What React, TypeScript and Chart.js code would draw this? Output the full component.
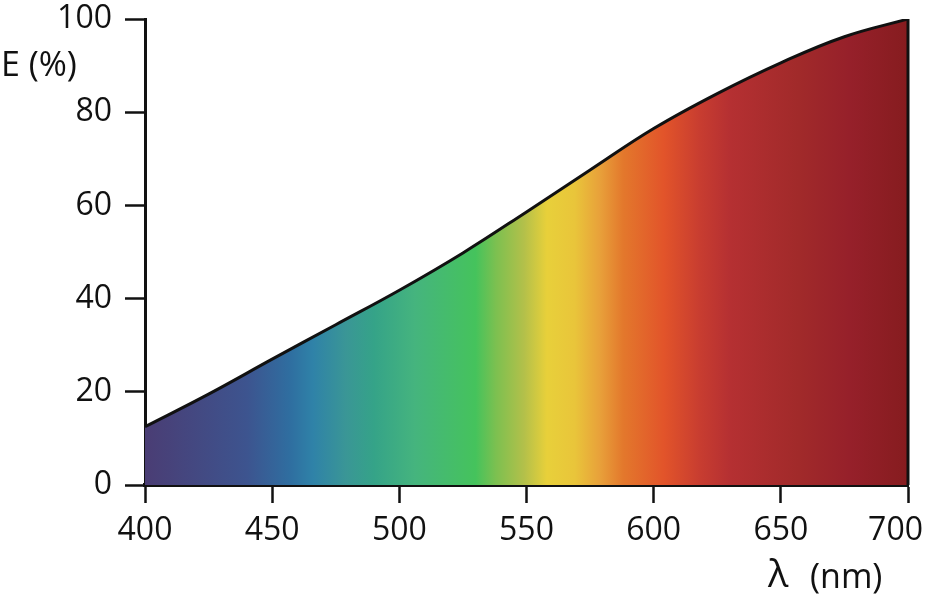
import React, { useEffect, useRef } from "react";
import { Chart, registerables } from "chart.js";

Chart.register(...registerables);

// Wavelength (nm) and relative value E (%)
const wavelengths = [400, 425, 450, 475, 500, 525, 550, 575, 600, 625, 650, 675, 700];
const eValues = [12.5, 19.5, 27.0, 34.4, 41.8, 49.8, 58.6, 67.6, 76.5, 84.0, 90.6, 96.2, 100];

const xTicks = [400, 450, 500, 550, 600, 650, 700];
const yTicks = [0, 20, 40, 60, 80, 100];

const yTitle = "E (%)";
const xTitleSymbol = "λ";
const xTitleUnit = "(nm)";

// spectrum gradient stops: [wavelength nm, colour]
const spectrumStops: [number, string][] = [
  [400, "#4a3d74"],
  [440, "#3d548f"],
  [457, "#2f6ea0"],
  [466, "#2f82a8"],
  [479, "#3a9696"],
  [490, "#35a388"],
  [506, "#45b47e"],
  [530, "#45c35c"],
  [538, "#7cc050"],
  [549, "#b3c04a"],
  [558, "#e8d03a"],
  [569, "#e9c53a"],
  [579, "#e8a03a"],
  [588, "#e3782c"],
  [604, "#e2542a"],
  [618, "#c83d30"],
  [630, "#b53032"],
  [657, "#a12a2a"],
  [677, "#96202a"],
  [700, "#861c1f"],
];

const FONT = '"Open Sans", "Noto Sans", sans-serif';
const INK = "#111111";

export default function App() {
  const ref = useRef<HTMLCanvasElement>(null);

  useEffect(() => {
    if (!ref.current) return;

    const titlesPlugin = {
      id: "titlesAndEdge",
      afterDatasetsDraw(chart: any) {
        const ctx = chart.ctx;
        const xs = chart.scales.x;
        const ys = chart.scales.y;
        const lastX = wavelengths[wavelengths.length - 1];
        const lastY = eValues[eValues.length - 1];
        ctx.save();
        ctx.strokeStyle = INK;
        ctx.lineWidth = 3;
        ctx.beginPath();
        ctx.moveTo(xs.getPixelForValue(lastX), ys.getPixelForValue(lastY));
        ctx.lineTo(xs.getPixelForValue(lastX), ys.getPixelForValue(0));
        ctx.stroke();
        ctx.restore();
      },
      afterDraw(chart: any) {
        const ctx = chart.ctx;
        ctx.save();
        ctx.fillStyle = INK;
        ctx.textBaseline = "middle";
        ctx.textAlign = "left";
        ctx.font = `34px ${FONT}`;
        ctx.fillText(yTitle, 1, 66);
        ctx.font = `38px ${FONT}`;
        ctx.fillText(xTitleSymbol, 768, 576);
        ctx.font = `34px ${FONT}`;
        ctx.fillText(xTitleUnit, 810, 578);
        ctx.restore();
      },
    };

    const chart = new Chart(ref.current, {
      type: "line",
      data: {
        datasets: [
          {
            data: wavelengths.map((x, i) => ({ x, y: eValues[i] })),
            borderColor: INK,
            borderWidth: 3,
            pointRadius: 0,
            tension: 0.4,
            fill: "origin",
            backgroundColor: (c: any) => {
              const ch = c.chart;
              const area = ch.chartArea;
              if (!area) return "#888";
              const xs = ch.scales.x;
              const g = ch.ctx.createLinearGradient(area.left, 0, area.right, 0);
              const w = area.right - area.left;
              spectrumStops.forEach(([nm, col]) => {
                const p = (xs.getPixelForValue(nm) - area.left) / w;
                g.addColorStop(Math.min(1, Math.max(0, p)), col);
              });
              return g;
            },
          },
        ],
      },
      options: {
        animation: false,
        responsive: true,
        maintainAspectRatio: false,
        layout: { padding: { top: 19, right: 17, left: 0, bottom: 0 } },
        plugins: {
          legend: { display: false },
          tooltip: { enabled: false },
        },
        scales: {
          x: {
            type: "linear",
            min: 400,
            max: 700,
            afterBuildTicks: (s: any) => {
              s.ticks = xTicks.map((v) => ({ value: v }));
            },
            afterFit: (s: any) => {
              s.height = 119;
              s.paddingLeft = 0;
              s.paddingRight = 0;
            },
            border: { display: true, color: INK, width: 4 },
            grid: {
              drawOnChartArea: false,
              drawTicks: true,
              tickLength: 18,
              tickWidth: 2.5,
              tickColor: INK,
              color: INK,
            },
            ticks: {
              color: INK,
              padding: 9,
              maxRotation: 0,
              autoSkip: false,
              font: { family: FONT, size: 32 },
              callback: (v: any) => (v === 700 ? "700   " : String(v)),
            },
          },
          y: {
            type: "linear",
            min: 0,
            max: 100,
            afterBuildTicks: (s: any) => {
              s.ticks = yTicks.map((v) => ({ value: v }));
            },
            afterFit: (s: any) => {
              s.width = 145;
              s.paddingTop = 0;
              s.paddingBottom = 0;
            },
            border: { display: true, color: INK, width: 3 },
            grid: {
              drawOnChartArea: false,
              drawTicks: true,
              tickLength: 20,
              tickWidth: 2.5,
              tickColor: INK,
              color: INK,
            },
            ticks: {
              color: INK,
              padding: 13,
              autoSkip: false,
              font: { family: FONT, size: 32 },
              callback: (v: any) => String(v),
            },
          },
        },
      },
      plugins: [titlesPlugin],
    } as any);

    return () => chart.destroy();
  }, []);

  return (
    <div
      style={{
        position: "fixed",
        left: 0,
        top: 0,
        width: 925,
        height: 604,
        background: "#ffffff",
      }}
    >
      <canvas ref={ref} />
    </div>
  );
}
